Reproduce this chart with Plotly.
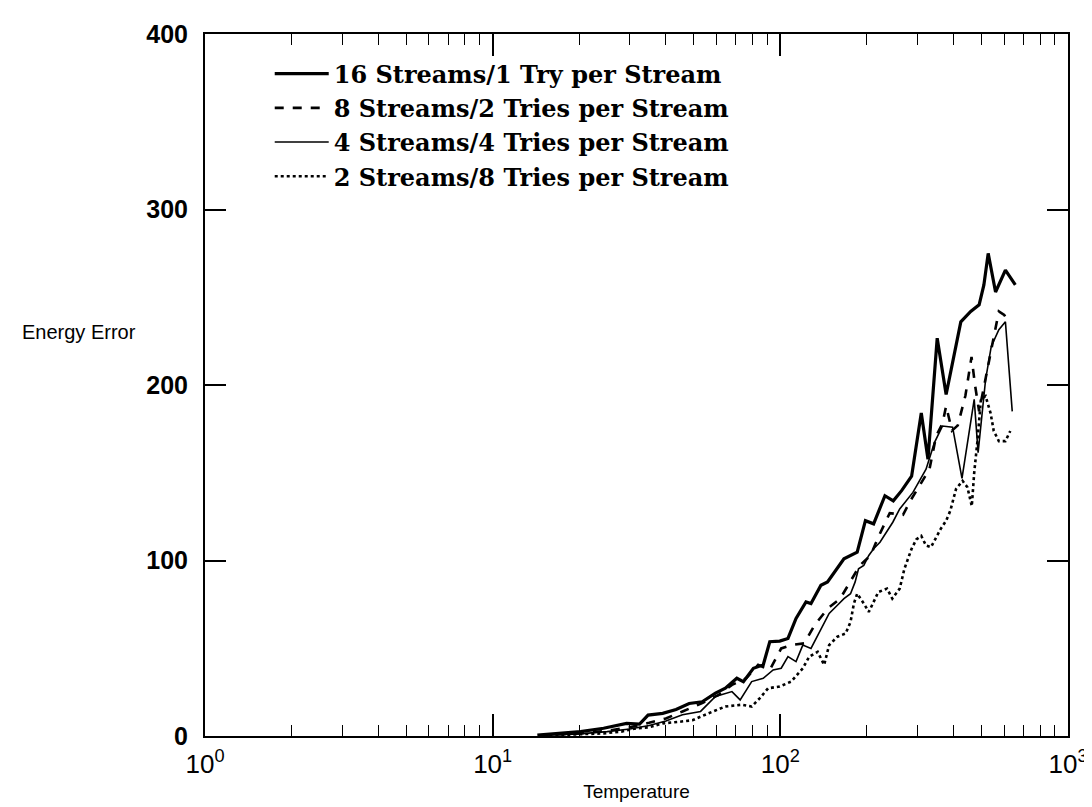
import plotly.graph_objects as go

# ---- data ----
t16 = [14.3, 20.2, 24.3, 29.2, 32.4, 34.7, 39, 43.4, 48.2, 53.5, 59.5, 64.4, 70.6, 74.4, 80.6,
       87.2, 91.9, 99.5, 106.3, 113.4, 122.8, 127.8, 138.4, 145.9, 166.4, 185, 197.6, 211,
       231, 247, 264, 286, 309, 326, 351, 377, 424, 459, 491, 510, 528, 560, 606, 656]
e16 = [0.5, 2.5, 4.4, 7.2, 6.8, 11.9, 12.9, 15.1, 18.5, 19.5, 24.4, 27.2, 32.9, 31.0, 38.6,
       40.5, 53.7, 54.1, 55.6, 67.0, 76.4, 75.5, 85.9, 87.8, 101, 104.8, 122.7, 120.9,
       136.9, 134, 139.8, 148, 184, 157.7, 226.7, 194.6, 236, 241.9, 245.7, 257, 275, 253, 265.5, 257]

t8 = [14.5, 20, 25, 30, 35, 40, 45.7, 53.5, 61, 67.9, 76.1, 83.7, 91.9, 100.7, 109, 121, 131.5,
      146, 161.5, 180, 189, 206, 219, 240, 267, 283, 310, 330, 348, 366, 377, 395, 414, 440,
      462, 475, 491, 520, 555, 575, 600, 620]
e8 = [0.3, 1.5, 3, 5, 7.5, 10, 14, 18.7, 23.4, 29.1, 32.9, 40.5, 37.6, 49.9, 51.8, 52.8, 63.1,
      72.6, 78.3, 91.5, 97.2, 102.9, 113.3, 127, 126, 134, 145, 152, 171, 178, 188, 174, 177, 194,
      216, 200, 185, 205, 228, 242, 240, 236]

t4 = [14.5, 20, 25, 30, 35, 40, 45.7, 52.8, 59.5, 67.9, 72.5, 79.5, 87.2, 94.4, 100.7, 106.3,
      113.4, 119.7, 127.8, 134.8, 142, 147.8, 157.9, 166.4, 175.4, 182, 187, 195, 203, 211, 222,
      246, 260, 289, 321, 343, 366, 397, 428, 450, 472, 487, 517, 541, 575, 606, 640]
e4 = [0.3, 1.2, 2.5, 4, 6, 8.5, 12.1, 14, 22.5, 25.3, 20.6, 31, 32.9, 37.6, 38.6, 45.2,
      42.4, 51.8, 49.9, 57.5, 65, 69.8, 74.5, 78.3, 81.1, 87.8, 95.3, 97.2, 102.9, 106.7, 110.4,
      121.8, 129.4, 138.8, 152, 167, 176.6, 176, 146.8, 170, 191.8, 161.5, 203, 222, 231.5, 236, 185]

t2 = [15, 20, 24.3, 28, 31.6, 35, 39, 44, 49.5, 56.4, 64.4, 73.4, 79.5, 84.9, 90.7, 99.5, 109,
      119.7, 126, 134.8, 142, 147.8, 157.9, 168.6, 175.4, 180.2, 185, 195, 203, 211, 219, 235,
      245, 260, 270, 286, 297, 309, 321, 334, 348, 361, 377, 390, 408, 430, 447, 463, 472, 485,
      498, 517, 538, 552, 575, 606, 630]
e2 = [0.2, 0.8, 1.5, 2.5, 4.4, 5, 7.2, 8, 9, 13, 16.8, 17.8, 16.8, 21.6, 27.2, 28.2, 31,
      38.6, 45.2, 48, 40.5, 51.8, 56.6, 58.4, 65, 75.5, 81.1, 75.5, 70.7, 76.4, 82, 84,
      78.3, 84, 95.3, 106.7, 112, 114, 108.5, 107.6, 113.3, 118, 122.7, 128.4, 140.7, 145.4, 141.7, 131, 150, 169,
      191.8, 193.7, 184, 173.8, 168, 168, 173.8]

names = ["16 Streams/1 Try per Stream", "8 Streams/2 Tries per Stream",
         "4 Streams/4 Tries per Stream", "2 Streams/8 Tries per Stream"]

x_tickvals = [1, 10, 100, 1000]
x_ticktext = ["10<sup>0</sup>", "10<sup>1</sup>", "10<sup>2</sup>", "10<sup>3</sup>"]
x_minor = [m * d for d in (1, 10, 100) for m in range(2, 10)]
y_tickvals = [0, 100, 200, 300, 400]

fig = go.Figure()
styles = [
    dict(color="black", width=3.2, dash="solid"),
    dict(color="black", width=2.6, dash="dash"),
    dict(color="black", width=1.6, dash="solid"),
    dict(color="black", width=2.6, dash="dot"),
]
for (t, e), name, st in zip([(t16, e16), (t8, e8), (t4, e4), (t2, e2)], names, styles):
    fig.add_trace(go.Scatter(x=t, y=e, mode="lines", name=name, line=st))

fig.update_layout(
    width=1092, height=807,
    margin=dict(l=197, r=22, t=23, b=79),
    paper_bgcolor="white", plot_bgcolor="white",
    showlegend=True,
    legend=dict(x=0.075, y=0.975, xanchor="left", yanchor="top",
                bgcolor="rgba(0,0,0,0)", itemwidth=54,
                font=dict(family="DejaVu Serif", size=24,
                          weight="bold", color="black"),
                tracegroupgap=0),
    font=dict(family="Liberation Sans", color="black"),
)
fig.update_xaxes(type="log", range=[0, 3], showgrid=False, zeroline=False,
                 showline=True, linecolor="black", linewidth=2, mirror="allticks",
                 ticks="inside", ticklen=22, tickwidth=1.5, tickcolor="black",
                 tickmode="array", tickvals=x_tickvals, ticktext=x_ticktext,
                 ticklabelstandoff=4,
                 tickfont=dict(size=26, family="Liberation Sans"),
                 minor=dict(ticks="inside", ticklen=11, tickwidth=1.2, tickcolor="black",
                            tickmode="array", tickvals=x_minor, showgrid=False),
                 title=dict(text="Temperature", font=dict(size=19), standoff=6))
fig.update_yaxes(range=[0, 400], showgrid=False, zeroline=False,
                 showline=True, linecolor="black", linewidth=2, mirror="allticks",
                 ticks="inside", ticklen=21, tickwidth=1.5, tickcolor="black",
                 tickmode="array", tickvals=y_tickvals, ticklabelstandoff=10,
                 tickfont=dict(size=25, family="Liberation Sans", weight="bold"))
fig.add_annotation(text="Energy Error", xref="paper", yref="y", x=-0.214, y=230,
                   xanchor="left", yanchor="middle", showarrow=False,
                   font=dict(size=20, family="Liberation Sans", color="black"))

fig.write_html("out.html")
